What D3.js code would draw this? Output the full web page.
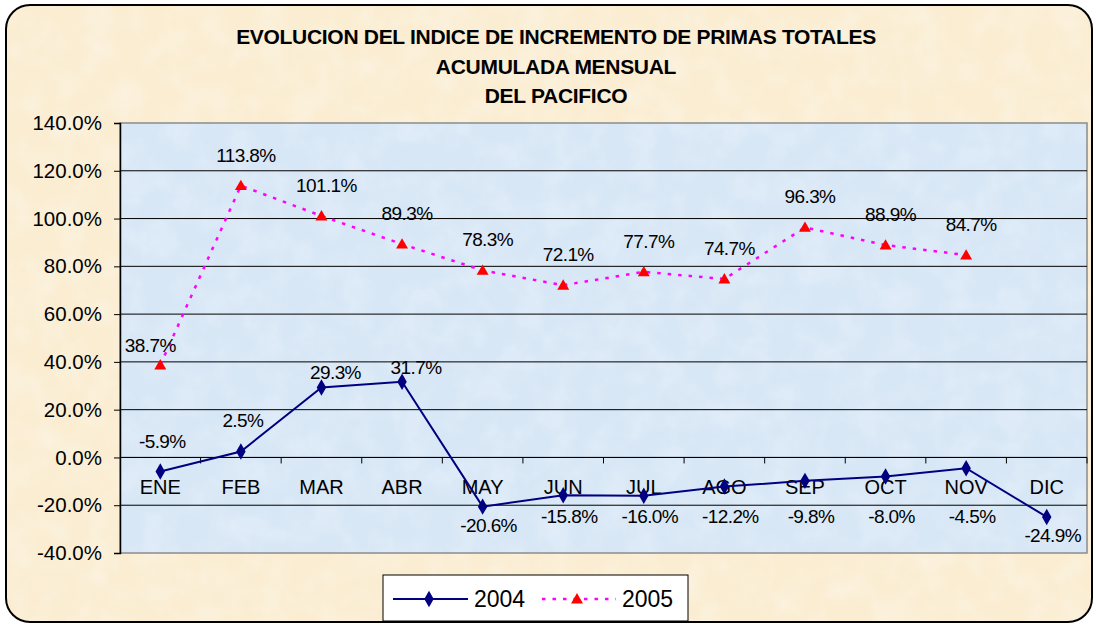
<!DOCTYPE html>
<html>
<head>
<meta charset="utf-8">
<script src="https://cdn.jsdelivr.net/npm/d3@7"></script>
<style>
  body { margin: 0; background: #fff; }
  svg { display: block; font-family: Arial, "Liberation Sans", sans-serif; }
</style>
</head>
<body>
<script>
// data
const months = ['ENE', 'FEB', 'MAR', 'ABR', 'MAY', 'JUN', 'JUL', 'AGO', 'SEP', 'OCT', 'NOV', 'DIC'];
const v2004 = [-5.9, 2.5, 29.3, 31.7, -20.6, -15.8, -16.0, -12.2, -9.8, -8.0, -4.5, -24.9];
const v2005 = [38.7, 113.8, 101.1, 89.3, 78.3, 72.1, 77.7, 74.7, 96.3, 88.9, 84.7];
const yTicks = [-40, -20, 0, 20, 40, 60, 80, 100, 120, 140];
const titleLines = ['EVOLUCION DEL INDICE DE INCREMENTO DE PRIMAS TOTALES', 'ACUMULADA MENSUAL', 'DEL PACIFICO'];

const W = 1096, H = 625;
const plot = { left: 120, right: 1087, top: 123, bottom: 553 };

let svg = d3.select('body').append('svg')
    .attr('width', W)
    .attr('height', H);

let defs = svg.append('defs');

// light mottled texture like the original fill
let grain = defs.append('filter').attr('id', 'grain')
    .attr('x', 0).attr('y', 0).attr('width', '100%').attr('height', '100%');
grain.append('feTurbulence')
    .attr('type', 'fractalNoise')
    .attr('baseFrequency', 0.035)
    .attr('numOctaves', 3)
    .attr('seed', 4);
grain.append('feColorMatrix')
    .attr('type', 'matrix')
    .attr('values', '0 0 0 0 1  0 0 0 0 1  0 0 0 0 1  0.9 0 0 0 -0.35');
grain.append('feComposite').attr('in2', 'SourceGraphic').attr('operator', 'in');

// outer chart area
let frame = (sel) => sel
    .attr('x', 6).attr('y', 5)
    .attr('width', 1086).attr('height', 617)
    .attr('rx', 24);

svg.append('rect').call(frame).attr('fill', '#faedd2');
svg.append('rect').call(frame)
    .attr('fill', '#fff')
    .attr('opacity', 0.6)
    .attr('filter', 'url(#grain)');
svg.append('rect').call(frame)
    .attr('fill', 'none')
    .attr('stroke', '#000')
    .attr('stroke-width', 2);

// title
svg.append('g').selectAll('text')
    .data(titleLines)
    .enter()
    .append('text')
    .attr('x', 556)
    .attr('y', (d, i) => 44 + i * 29.5)
    .attr('text-anchor', 'middle')
    .attr('font-size', '21px')
    .attr('font-weight', 'bold')
    .attr('letter-spacing', '-0.3px')
    .text(d => d);

let x = d3.scaleBand()
    .domain(months)
    .range([plot.left, plot.right]);

let y = d3.scaleLinear()
    .domain([-40, 140])
    .range([plot.bottom, plot.top]);

let cx = (i) => x(months[i]) + x.bandwidth() / 2;

// plot area
let area = (sel) => sel
    .attr('x', plot.left).attr('y', plot.top)
    .attr('width', plot.right - plot.left).attr('height', plot.bottom - plot.top);

svg.append('rect').call(area).attr('fill', '#d8e7f6');
svg.append('rect').call(area)
    .attr('fill', '#fff')
    .attr('opacity', 0.5)
    .attr('filter', 'url(#grain)');
svg.append('rect').call(area)
    .attr('fill', 'none')
    .attr('stroke', '#8c8c8c')
    .attr('stroke-width', 1.5);

// gridlines
svg.append('g').selectAll('line')
    .data(yTicks.filter(t => t > -40 && t < 140))
    .enter()
    .append('line')
    .attr('x1', plot.left).attr('x2', plot.right)
    .attr('y1', d => y(d)).attr('y2', d => y(d))
    .attr('stroke', '#000')
    .attr('stroke-width', 1);

// y axis
let yAxis = svg.append('g')
    .attr('transform', `translate(${plot.left},0)`)
    .call(d3.axisLeft(y).tickValues(yTicks).tickFormat(d => d.toFixed(1) + '%').tickSize(6).tickPadding(12));
yAxis.select('.domain').attr('stroke', '#000').attr('stroke-width', 1.5);
yAxis.selectAll('.tick line').attr('stroke', '#000');
yAxis.selectAll('.tick text')
    .attr('font-size', '20.5px')
    .attr('font-family', 'Arial, "Liberation Sans", sans-serif')
    .attr('fill', '#000');

// x axis on the zero line
let xAxis = svg.append('g').attr('transform', `translate(0,${y(0)})`);
xAxis.append('line')
    .attr('x1', plot.left).attr('x2', plot.right)
    .attr('stroke', '#000').attr('stroke-width', 1);
xAxis.selectAll('line.tk')
    .data(months.slice(1).concat(['end']))
    .enter()
    .append('line')
    .attr('class', 'tk')
    .attr('x1', d => d === 'end' ? plot.right : x(d))
    .attr('x2', d => d === 'end' ? plot.right : x(d))
    .attr('y1', 0).attr('y2', 6)
    .attr('stroke', '#000');
xAxis.selectAll('text')
    .data(months)
    .enter()
    .append('text')
    .attr('x', d => x(d) + x.bandwidth() / 2)
    .attr('y', 37)
    .attr('text-anchor', 'middle')
    .attr('font-size', '20px')
    .text(d => d);

// series 2005
let line = d3.line().x((d, i) => cx(i)).y(d => y(d));

svg.append('path')
    .datum(v2005)
    .attr('d', line)
    .attr('fill', 'none')
    .attr('stroke', '#ff00ff')
    .attr('stroke-width', 2.5)
    .attr('stroke-dasharray', '3.5 7');

let tri = d3.symbol().type(d3.symbolTriangle).size(62);
svg.append('g').selectAll('path')
    .data(v2005)
    .enter()
    .append('path')
    .attr('d', tri)
    .attr('transform', (d, i) => `translate(${cx(i)},${y(d) + 1})`)
    .attr('fill', '#ff0000');

// series 2004
svg.append('path')
    .datum(v2004)
    .attr('d', line)
    .attr('fill', 'none')
    .attr('stroke', '#000080')
    .attr('stroke-width', 2);

let dia = d3.symbol().type(d3.symbolDiamond).size(78);
svg.append('g').selectAll('path')
    .data(v2004)
    .enter()
    .append('path')
    .attr('d', dia)
    .attr('transform', (d, i) => `translate(${cx(i)},${y(d)})`)
    .attr('fill', '#000080');

// data labels
let fmt = (d) => d.toFixed(1) + '%';

svg.append('g').selectAll('text')
    .data(v2005)
    .enter()
    .append('text')
    .attr('x', (d, i) => cx(i) + (i === 0 ? -10 : 5))
    .attr('y', (d, i) => y(d) - (i === 0 ? 13 : 24))
    .attr('text-anchor', 'middle')
    .attr('font-size', '19px')
    .attr('letter-spacing', '-0.6px')
    .text(fmt);

// 2004: first months above the point, the rest below the category names
svg.append('g').selectAll('text')
    .data(v2004)
    .enter()
    .append('text')
    .attr('x', (d, i) => cx(i) + (i < 2 ? 2 : (i < 4 ? 14 : 6)))
    .attr('y', (d, i) => i < 2 ? y(d) - 24 : (i < 4 ? y(d) - 8 : Math.max(y(d) + 25, y(0) + 66)))
    .attr('text-anchor', 'middle')
    .attr('font-size', '19px')
    .attr('letter-spacing', '-0.6px')
    .text(fmt);

// legend
let legend = svg.append('g');
legend.append('rect')
    .attr('x', 383).attr('y', 575)
    .attr('width', 305).attr('height', 46)
    .attr('fill', '#fff')
    .attr('stroke', '#000')
    .attr('stroke-width', 1);

legend.append('line')
    .attr('x1', 393).attr('x2', 468)
    .attr('y1', 599).attr('y2', 599)
    .attr('stroke', '#000080').attr('stroke-width', 2);
legend.append('path')
    .attr('d', dia)
    .attr('transform', 'translate(429,599)')
    .attr('fill', '#000080');
legend.append('text')
    .attr('x', 474).attr('y', 607)
    .attr('font-size', '23px')
    .text('2004');

legend.append('line')
    .attr('x1', 542).attr('x2', 616)
    .attr('y1', 599).attr('y2', 599)
    .attr('stroke', '#ff00ff').attr('stroke-width', 2.5)
    .attr('stroke-dasharray', '3.5 7');
legend.append('path')
    .attr('d', tri)
    .attr('transform', 'translate(577,600)')
    .attr('fill', '#ff0000');
legend.append('text')
    .attr('x', 622).attr('y', 607)
    .attr('font-size', '23px')
    .text('2005');
</script>
</body>
</html>
